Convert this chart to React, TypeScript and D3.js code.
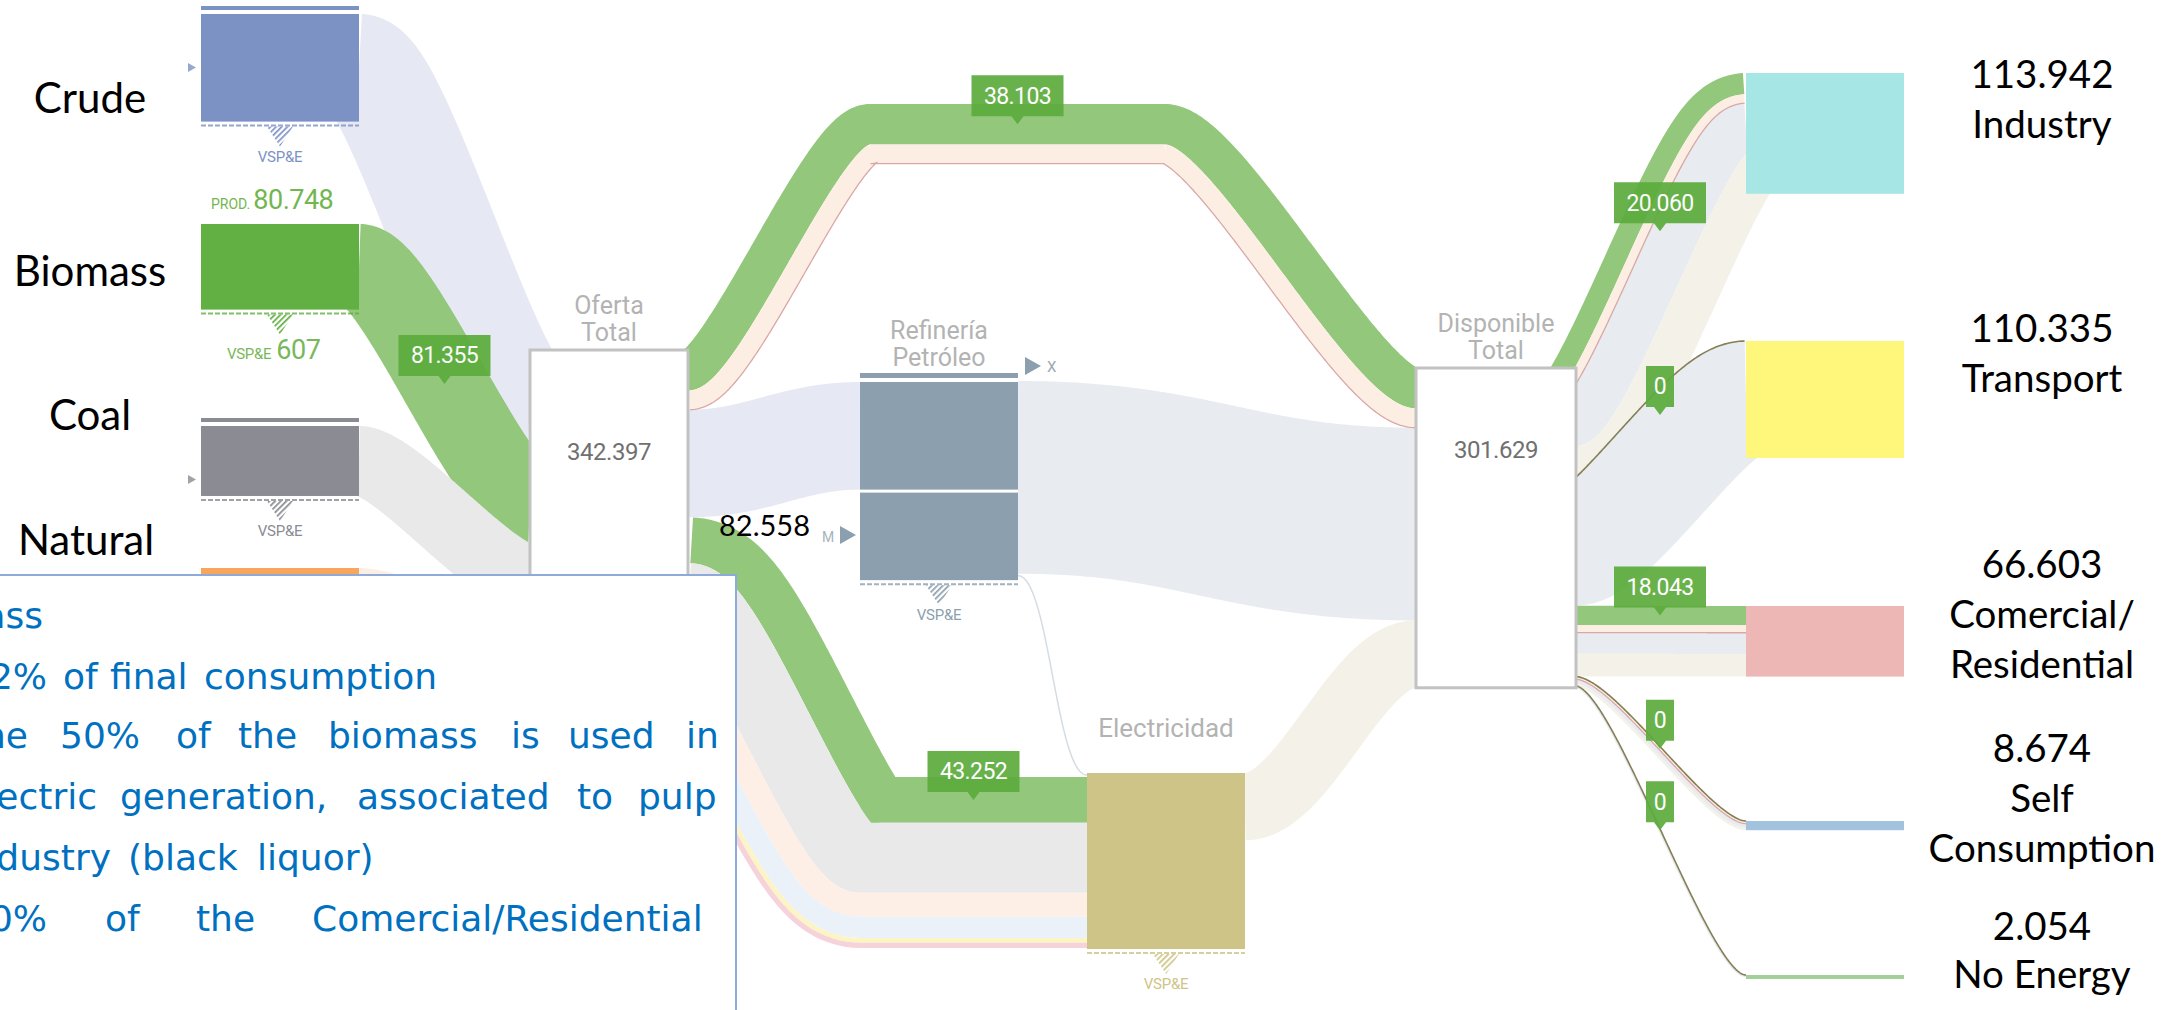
import React from "react";
import * as d3 from "d3";

type P = [number, number];

// ================= DATA =================
const sourceNames = ["Crude", "Biomass", "Coal", "Natural"];
const sourceValues = [101.5, 80.748, 66.0, 40.2];
const sourceToOferta = [101.5, 81.355, 66.0, 40.2];
const ofertaTotal = 342.397;
const disponibleTotal = 301.629;
const biomassProduction = 80.748;
const biomassVspe = 607;
const refineryInputs = [101.5, 82.558]; // crude, imports (M)
const electricityValue = 166.0;
const electricityInputs = [43.252, 66.0, 22.5, 20.0, 4.5, 5.0];
const carriers = ["Biomass", "Natural Gas", "Petroleum Products", "Electricity"];
const finalNames = ["Industry", "Transport", "Comercial/Residential", "Self Consumption", "No Energy"];
const finalLines = [["Industry"], ["Transport"], ["Comercial/", "Residential"], ["Self", "Consumption"], ["No Energy"]];
const finalValues = [113.942, 110.335, 66.603, 8.674, 2.054];
const industryMix = [20.06, 8.5, 45.4, 39.982];
const transportMix = [0, 0, 110.335, 0];
const comercialMix = [18.043, 7.2, 20.0, 21.36];
const selfMix = [0, 2.521, 4.0, 2.153];
const noEnergyMix = [0, 0, 2.054, 0];
const finalMixes = [industryMix, transportMix, comercialMix, selfMix, noEnergyMix];
const noteLines = [
  ["Biomass"],
  ["22%", "of", "final", "consumption"],
  ["the", "50%", "of", "the", "biomass", "is", "used", "in"],
  ["electric", "generation,", "associated", "to", "pulp"],
  ["industry", "(black", "liquor)"],
  ["30%", "of", "the", "Comercial/Residential"],
];

// ================= LAYOUT / STYLE =================
const W = 2178;
const H = 1010;
const k = d3.scaleLinear().domain([0, ofertaTotal]).range([0, 363]);
const colX = { src: 201, oferta: 530, ref: 860, elec: 1087, disp: 1416, fin: 1746 };
const NW = 158;
const CURV = 0.22;
const srcTops = [14, 224, 426, 568];
const srcTopBar = [true, false, true, false];
const srcColors = ["#7d92c4", "#62b043", "#8a8b93", "#f8a65c"];
const srcLinkColors = ["#e6e9f4", "#93c77b", "#e9e9e9", "#fdeee4"];
const srcLabelY = [113, 286, 430, 555];
const carrierColors = ["#93c77b", "#fdeee4", "#e8ebef", "#f4f2e8"];
const gasEdge = "#d9a7a6";
const zeroColor = "#857f56";
const elecInColors = ["#93c77b", "#e9e9e9", "#fdefe5", "#eaf1f9", "#fdf4c4", "#f6d2da"];
const finalColors = ["#a6e6e5", "#fff67c", "#edb7b6", "#a3c2dd", "#a3cf98"];
const finalTops = [73, 341, 606, 821, 975];
const finalLabelY = [88, 342, 578, 762, 940];
const ofertaTop = 350;
const dispTop = 368;
const refTop = 382;
const elecTop = 773;
const arcTopY = 104;
const noteBaselines = [628, 689, 748, 809, 870, 931];
const noteX = [[43], [47, 63, 110, 204], [28, 60, 176, 238, 328, 511, 568, 686], [97, 120, 357, 577, 638], [111, 128, 257], [47, 105, 196, 312]];

const fmt = d3.format(".3f");
const UI = "Roboto, 'Liberation Sans', Arial, sans-serif";
const CAL = "Lato, 'Open Sans', sans-serif";
const NOTE = "'DejaVu Sans', Verdana, sans-serif";

// ================= GEOMETRY HELPERS =================
function bez(pts: P[], c = CURV, n = 160): P[] {
  const out: P[] = [];
  for (let i = 0; i < pts.length - 1; i++) {
    const [x0, y0] = pts[i];
    const [x3, y3] = pts[i + 1];
    const dx = x3 - x0;
    const x1 = x0 + c * dx;
    const x2 = x3 - c * dx;
    for (let j = i === 0 ? 0 : 1; j <= n; j++) {
      const t = j / n, u = 1 - t;
      const b0 = u * u * u, b1 = 3 * u * u * t, b2 = 3 * u * t * t, b3 = t * t * t;
      out.push([b0 * x0 + b1 * x1 + b2 * x2 + b3 * x3, (b0 + b1) * y0 + (b2 + b3) * y3]);
    }
  }
  return out;
}
function offsetLine(pts: P[], o: number): P[] {
  return pts.map((p, i) => {
    const a = pts[Math.max(0, i - 1)];
    const b = pts[Math.min(pts.length - 1, i + 1)];
    const dx = b[0] - a[0], dy = b[1] - a[1];
    const L = Math.hypot(dx, dy) || 1;
    return [p[0] - (dy / L) * o, p[1] + (dx / L) * o] as P;
  });
}
const lineGen = d3.line<P>().x((d) => d[0]).y((d) => d[1]);

type Band = { value: number; color: string; edge?: string; zeroLine?: boolean; labelX?: number };
type Marker = { x: number; y: number; text: string };

// anchor of a label: vertical interpolation of the band position between the route waypoints
function anchor(tops: P[], rel: number, x: number): P {
  for (let j = 0; j < tops.length - 1; j++) {
    const [xa, ya] = tops[j];
    const [xb, yb] = tops[j + 1];
    if (x >= xa && x <= xb) {
      const f = (x - xa) / (xb - xa || 1);
      return [x, ya + rel + (yb - ya) * f];
    }
  }
  return [x, tops[0][1] + rel];
}

function bundle(key: string, tops: P[], bands: Band[], c = CURV) {
  const T = d3.sum(bands, (b) => k(b.value));
  const center = bez(tops.map(([x, y]) => [x, y + T / 2] as P), c);
  let acc = -T / 2;
  const fills: React.ReactNode[] = [];
  const lines: React.ReactNode[] = [];
  const markers: Marker[] = [];
  bands.forEach((b, i) => {
    const w = k(b.value);
    if (b.value === 0) {
      if (b.zeroLine) {
        const pts = offsetLine(center, acc);
        lines.push(<path key={`${key}-z${i}`} d={lineGen(pts) || ""} fill="none" stroke={zeroColor} strokeWidth={1.6} />);
        if (b.labelX !== undefined) {
          const p = anchor(tops, acc + T / 2, b.labelX);
          markers.push({ x: p[0], y: p[1], text: "0" });
        }
      }
      return;
    }
    const pts = offsetLine(center, acc + w / 2);
    fills.push(<path key={`${key}-b${i}`} d={lineGen(pts) || ""} fill="none" stroke={b.color} strokeWidth={w} />);
    if (b.edge) {
      lines.push(<path key={`${key}-e${i}`} d={lineGen(offsetLine(center, acc + w)) || ""} fill="none" stroke={b.edge} strokeWidth={1.3} />);
    }
    if (b.labelX !== undefined) {
      const p = anchor(tops, acc + T / 2 + w / 2, b.labelX);
      markers.push({ x: p[0], y: p[1], text: fmt(b.value) });
    }
    acc += w;
  });
  return { fills, lines, markers };
}

function Vspe({ x, y, color, id, label }: { x: number; y: number; color: string; id: string; label?: React.ReactNode }) {
  const cx = x + NW / 2;
  return (
    <g>
      <line x1={x} x2={x + NW} y1={y} y2={y} stroke={color} strokeWidth={2} strokeDasharray="5 2" opacity={0.8} />
      <path d={`M${cx - 13},${y + 1}L${cx + 13},${y + 1}L${cx},${y + 21}Z`} fill={`url(#h-${id})`} />
      {label ?? (
        <text x={cx} y={y + 36} textAnchor="middle" fontFamily={UI} fontSize={15} fill={color} letterSpacing={-0.3}>
          VSP&amp;E
        </text>
      )}
    </g>
  );
}

function MarkerBox({ m }: { m: Marker }) {
  const w = m.text.length > 1 ? 92 : 28;
  const h = 41;
  const by = m.y - 8;
  const d = `M${m.x - w / 2},${by - h}H${m.x + w / 2}V${by}H${m.x + 6}L${m.x},${m.y}L${m.x - 6},${by}H${m.x - w / 2}Z`;
  return (
    <g opacity={0.93}>
      <path d={d} fill="#5dac3e" />
      <text x={m.x} y={by - h / 2 + 8} textAnchor="middle" fontFamily={UI} fontSize={23} fill="#ffffff" letterSpacing={-0.6}>
        {m.text}
      </text>
    </g>
  );
}

export default function App() {
  const hatch: Record<string, string> = { crude: srcColors[0], bio: srcColors[1], coal: srcColors[2], ref: "#8c9fae", elec: "#cfc487" };

  // --- sources -> Oferta ---
  const ofertaIn: number[] = [];
  let acc = ofertaTop;
  sourceToOferta.forEach((v) => { ofertaIn.push(acc); acc += k(v); });
  const srcLinks = sourceToOferta.map((v, i) =>
    bundle(`s${i}`, [[colX.src + NW, srcTops[i]], [colX.oferta, ofertaIn[i]]], [{ value: v, color: srcLinkColors[i], labelX: i === 1 ? (colX.src + NW + colX.oferta) / 2 : undefined }])
  );

  // --- carrier totals ---
  const carrierTotals = carriers.map((_, c) => d3.sum(finalMixes, (m) => m[c]));

  // --- Oferta outputs ---
  const arcValues = [carrierTotals[0], carrierTotals[1]];
  const arcT = d3.sum(arcValues, (v) => k(v));
  const arc = bundle("arc", [
    [colX.oferta + NW + 1, ofertaTop],
    [870, arcTopY],
    [1165, arcTopY],
    [colX.disp, dispTop],
  ], [
    { value: arcValues[0], color: carrierColors[0], labelX: (870 + 1165) / 2 },
    { value: arcValues[1], color: carrierColors[1], edge: gasEdge },
  ]);
  const lavTop = ofertaTop + arcT;
  const lav = bundle("lav", [[colX.oferta + NW + 1, lavTop], [colX.ref, refTop]], [{ value: refineryInputs[0], color: srcLinkColors[0] }], 0.4);
  const elecBundleTop = lavTop + k(refineryInputs[0]);
  const elecIn = bundle("ein", [
    [colX.oferta + NW + 1, elecBundleTop],
    [colX.ref, elecTop + 4],
    [colX.elec, elecTop + 4],
  ], electricityInputs.map((v, i) => ({ value: v, color: elecInColors[i], labelX: i === 0 ? (colX.ref + colX.elec) / 2 : undefined })));

  // --- refinery / electricity -> Disponible ---
  const refOutTop = refTop - 1;
  const refOut = bundle("rout", [[colX.ref + NW, refOutTop], [colX.disp, dispTop + arcT]], [{ value: carrierTotals[2], color: carrierColors[2] }], 0.45);
  const refElecY = refOutTop + k(carrierTotals[2]) + 2;
  const refElecPath = lineGen(bez([[colX.ref + NW, refElecY], [colX.elec, elecTop + 2]], 0.45)) || "";
  const elecOut = bundle("eout", [[colX.elec + NW, elecTop], [colX.disp, dispTop + arcT + k(carrierTotals[2])]], [{ value: carrierTotals[3], color: carrierColors[3] }], 0.35);

  // --- Disponible -> finals ---
  let dAcc = dispTop;
  const finLinks = finalMixes.map((mix, f) => {
    const start = dAcc;
    dAcc += k(finalValues[f]);
    return bundle(`f${f}`, [[colX.disp + NW, start], [colX.fin, finalTops[f]]],
      mix.map((v, c) => ({
        value: v,
        color: carrierColors[c],
        edge: c === 1 ? gasEdge : undefined,
        zeroLine: c === 0,
        labelX: c === 0 ? (colX.disp + NW + colX.fin) / 2 : undefined,
      })));
  });

  const allBundles = [...srcLinks, arc, lav, elecIn, refOut, elecOut, ...finLinks];
  const markers = allBundles.flatMap((b) => b.markers);

  const refH1 = k(refineryInputs[0]);
  const refH2 = k(refineryInputs[1]);
  const refBottom = refTop + refH1 + 3 + refH2;
  const elecH = k(electricityValue);
  const ofertaH = k(ofertaTotal);
  const dispH = k(disponibleTotal);

  return (
    <svg width={W} height={H} viewBox={`0 0 ${W} ${H}`} style={{ position: "absolute", left: 0, top: 0, background: "#fff" }}>
      <defs>
        {Object.entries(hatch).map(([id, c]) => (
          <pattern key={id} id={`h-${id}`} width={4} height={4} patternUnits="userSpaceOnUse" patternTransform="rotate(-45)">
            <rect width={4} height={1.7} fill={c} />
          </pattern>
        ))}
      </defs>
      <rect x={0} y={0} width={W} height={H} fill="#ffffff" />

      {/* links */}
      {allBundles.map((b, i) => <g key={`bf${i}`}>{b.fills}</g>)}
      <path d={refElecPath} fill="none" stroke="#d6dce4" strokeWidth={1.5} />
      {allBundles.map((b, i) => <g key={`bl${i}`}>{b.lines}</g>)}

      {/* source nodes */}
      {sourceValues.map((v, i) => (
        <g key={`src${i}`}>
          {srcTopBar[i] && <rect x={colX.src} y={srcTops[i] - 8} width={NW} height={4} fill={srcColors[i]} />}
          <rect x={colX.src} y={srcTops[i]} width={NW} height={k(v)} fill={srcColors[i]} />
          {i !== 1 && i !== 3 && <path d={`M${colX.src - 13},${srcTops[i] + 49}l8,4.5l-8,4.5Z`} fill={srcColors[i]} opacity={0.8} />}
          {i === 1 ? (
            <Vspe x={colX.src} y={srcTops[i] + k(v) + 4} color={srcColors[i]} id="bio" label={
              <text x={227} y={srcTops[i] + k(v) + 49} fontFamily={UI} fill="#79b75b">
                <tspan fontSize={15} letterSpacing={-0.3}>VSP&amp;E</tspan>
                <tspan fontSize={27} dx={5} letterSpacing={-0.5}>{biomassVspe}</tspan>
              </text>
            } />
          ) : i < 3 ? (
            <Vspe x={colX.src} y={srcTops[i] + k(v) + 4} color={srcColors[i]} id={i === 0 ? "crude" : "coal"} />
          ) : null}
          <text x={i === 3 ? 86 : 90} y={srcLabelY[i]} textAnchor="middle" fontFamily={CAL} fontSize={42} fill="#000">
            {sourceNames[i]}
          </text>
        </g>
      ))}
      <text x={211} y={209} fontFamily={UI} fill="#72b650">
        <tspan fontSize={14}>PROD.</tspan>
        <tspan fontSize={27} dx={3} letterSpacing={-0.5}>{fmt(biomassProduction)}</tspan>
      </text>

      {/* Oferta Total */}
      <rect x={colX.oferta} y={ofertaTop} width={NW} height={ofertaH} fill="#fff" stroke="#c2c2c2" strokeWidth={3} />
      <text x={colX.oferta + NW / 2} y={314} textAnchor="middle" fontFamily={UI} fontSize={25} fill="#b3b3b3">Oferta</text>
      <text x={colX.oferta + NW / 2} y={341} textAnchor="middle" fontFamily={UI} fontSize={25} fill="#b3b3b3">Total</text>
      <text x={colX.oferta + NW / 2} y={460} textAnchor="middle" fontFamily={UI} fontSize={24} fill="#707070" letterSpacing={-0.5}>{fmt(ofertaTotal)}</text>

      {/* Refinery */}
      <rect x={colX.ref} y={refTop - 9} width={NW} height={5} fill="#8c9fae" />
      <rect x={colX.ref} y={refTop} width={NW} height={refH1} fill="#8c9fae" />
      <rect x={colX.ref} y={refTop + refH1 + 3} width={NW} height={refH2} fill="#8c9fae" />
      <Vspe x={colX.ref} y={refBottom + 4} color="#8c9fae" id="ref" />
      <text x={colX.ref + NW / 2} y={339} textAnchor="middle" fontFamily={UI} fontSize={25} fill="#b3b3b3">Refinería</text>
      <text x={colX.ref + NW / 2} y={366} textAnchor="middle" fontFamily={UI} fontSize={25} fill="#b3b3b3">Petróleo</text>
      <path d={`M${colX.ref + NW + 7},${357}l16,9l-16,9Z`} fill="#8c9fae" />
      <text x={colX.ref + NW + 29} y={372} fontFamily={UI} fontSize={15} fill="#9aa8b4">X</text>
      <text x={810} y={536} textAnchor="end" fontFamily={CAL} fontSize={29} fill="#000">{fmt(refineryInputs[1])}</text>
      <text x={822} y={542} fontFamily={UI} fontSize={14} fill="#a7b3bd">M</text>
      <path d={`M${colX.ref - 20},${526}l16,9l-16,9Z`} fill="#8c9fae" />

      {/* Electricity */}
      <rect x={colX.elec} y={elecTop} width={NW} height={elecH} fill="#cfc487" />
      <Vspe x={colX.elec} y={elecTop + elecH + 4} color="#cfc487" id="elec" />
      <text x={colX.elec + NW / 2} y={737} textAnchor="middle" fontFamily={UI} fontSize={26} fill="#b3b3b3">Electricidad</text>

      {/* Disponible Total */}
      <rect x={colX.disp} y={dispTop} width={NW + 2} height={dispH} fill="#fff" stroke="#c2c2c2" strokeWidth={3} />
      <text x={colX.disp + 80} y={332} textAnchor="middle" fontFamily={UI} fontSize={25} fill="#b3b3b3">Disponible</text>
      <text x={colX.disp + 80} y={359} textAnchor="middle" fontFamily={UI} fontSize={25} fill="#b3b3b3">Total</text>
      <text x={colX.disp + 80} y={458} textAnchor="middle" fontFamily={UI} fontSize={24} fill="#707070" letterSpacing={-0.5}>{fmt(disponibleTotal)}</text>

      {/* Final nodes */}
      {finalValues.map((v, i) => (
        <g key={`fin${i}`}>
          <rect x={colX.fin} y={finalTops[i]} width={NW} height={Math.max(k(v), 4)} fill={finalColors[i]} />
          <text x={2042} y={finalLabelY[i]} textAnchor="middle" fontFamily={CAL} fontSize={38.5} fill="#000">{fmt(v)}</text>
          {finalLines[i].map((ln, j) => (
            <text key={j} x={2042} y={finalLabelY[i] + 50 * (j + 1) - (i === 4 ? 2 : 0)} textAnchor="middle" fontFamily={CAL} fontSize={38.5} fill="#000">{ln}</text>
          ))}
        </g>
      ))}

      {/* value markers */}
      {markers.map((m, i) => <MarkerBox key={`m${i}`} m={m} />)}

      {/* overlay note box */}
      <rect x={-2} y={575} width={738} height={480} fill="#ffffff" stroke="#8eaadb" strokeWidth={2} />
      {noteLines.map((words, li) => (
        <g key={`n${li}`}>
          {words.map((w, wi) => (
            <text key={wi} x={noteX[li][wi]} y={noteBaselines[li]} textAnchor={wi === 0 ? "end" : "start"} fontFamily={NOTE} fontSize={36} fill="#0070c0">{w}</text>
          ))}
        </g>
      ))}
    </svg>
  );
}
